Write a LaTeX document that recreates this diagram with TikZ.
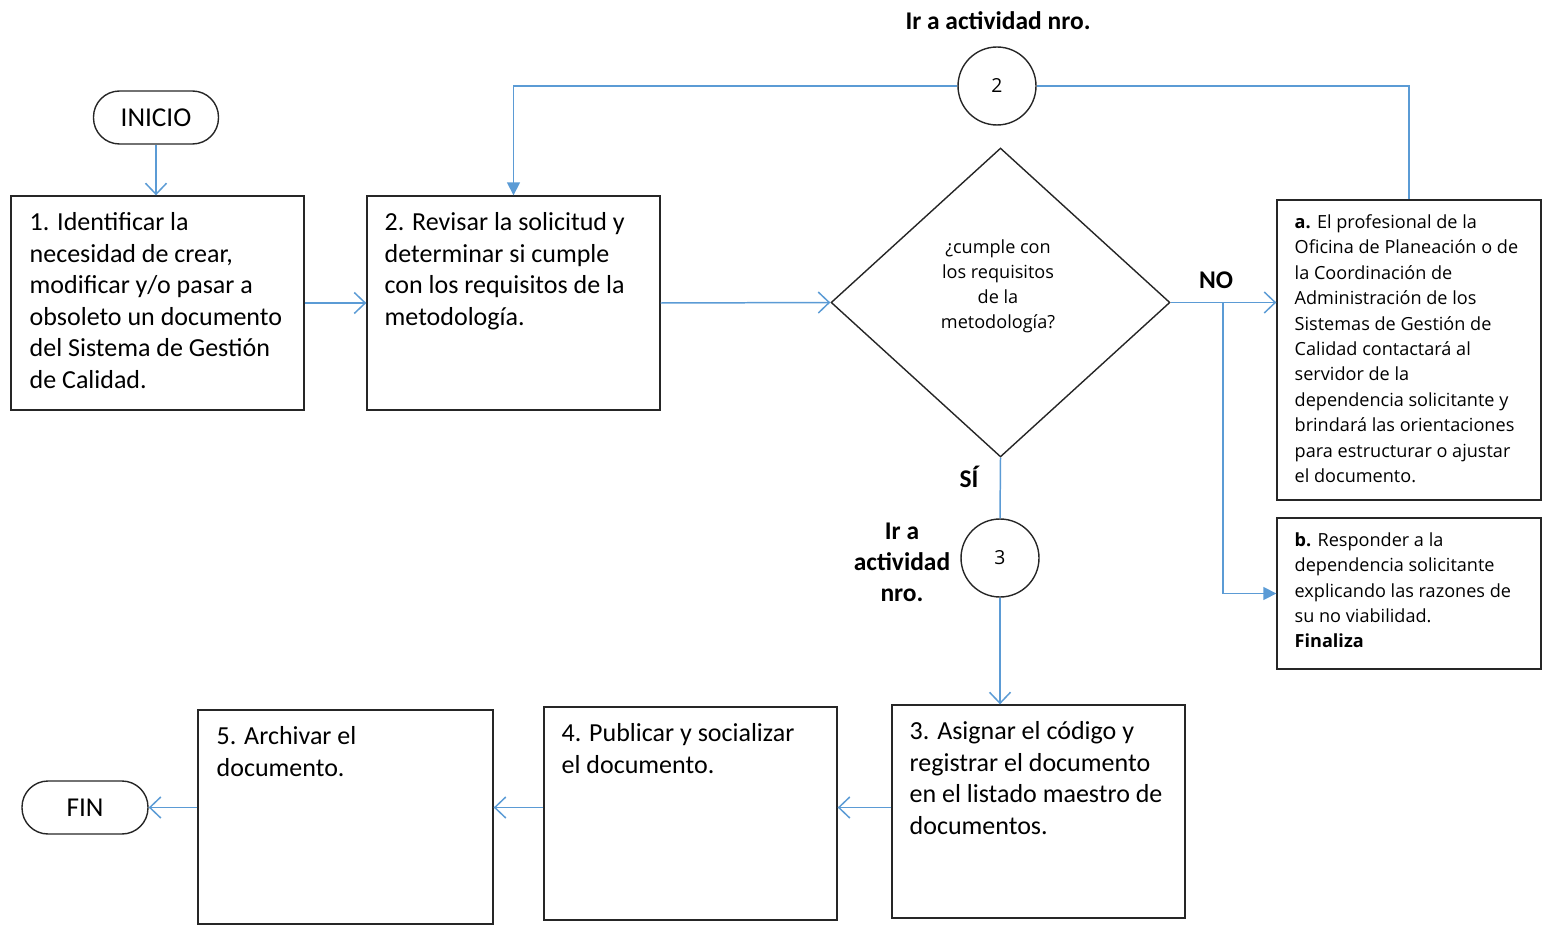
\documentclass[tikz,border=0pt]{standalone}
\usepackage{fontspec}
\setmainfont{Carlito}
\newfontfamily\seg{Open Sans}
\usetikzlibrary{arrows.meta,shapes.geometric}
\definecolor{conn}{HTML}{5B9BD5}
\begin{document}
\begin{tikzpicture}[x=0.02cm,y=-0.02cm,
  box/.style={draw=black!85, line width=0.8pt, rectangle, inner sep=0pt},
  term/.style={draw=black!85, line width=0.8pt, rounded corners=0.52cm, inner sep=0pt, font=\fontsize{15.5}{18}\selectfont},
  txt/.style={anchor=north west, inner sep=0pt, align=left, font=\fontsize{14.8}{17.95}\selectfont},
  stxt/.style={anchor=north west, inner sep=0pt, align=left, font=\seg\fontsize{10.3}{14.45}\selectfont},
  arr/.style={draw=conn, line width=0.85pt, -{Straight Barb[length=0.22cm,width=0.42cm]}},
  arrf/.style={draw=conn, line width=0.85pt, -{Triangle[length=0.26cm,width=0.26cm]}},
  conline/.style={draw=conn, line width=0.85pt},
  circ/.style={draw=black!85, line width=0.8pt, circle, minimum size=1.56cm, inner sep=0pt, font=\seg\fontsize{11}{13}\selectfont},
  lbl/.style={font=\bfseries\fontsize{14.5}{17.6}\selectfont, inner sep=0pt, align=center}
]
\useasboundingbox (0,0) rectangle (1544,929);

% terminals
\node[term, minimum width=2.5cm, minimum height=1.06cm] (ini) at (156,117.5) {INICIO};
\node[term, minimum width=2.52cm, minimum height=1.06cm] (fin) at (85,807.5) {FIN};

% boxes
\node[box, minimum width=5.86cm, minimum height=4.28cm] (b1) at (157.5,303) {};
\node[box, minimum width=5.86cm, minimum height=4.28cm] (b2) at (513.5,303) {};
\node[box, minimum width=5.86cm, minimum height=4.26cm] (b3) at (1038.5,811.5) {};
\node[box, minimum width=5.86cm, minimum height=4.26cm] (b4) at (690.5,813.5) {};
\node[box, minimum width=5.9cm, minimum height=4.28cm] (b5) at (345.5,817) {};
\node[box, minimum width=5.28cm, minimum height=6.0cm] (ba) at (1409,350) {};
\node[box, minimum width=5.28cm, minimum height=3.02cm] (bb) at (1409,593.5) {};

% decision and connectors
\node[draw=black!85, line width=0.8pt, diamond, minimum width=6.78cm, minimum height=6.18cm, inner sep=0pt] (dia) at (1000.5,302.5) {};
\node[circ] (c2) at (997,86) {2};
\node[circ] (c3) at (1000,558) {3};

% texts
\node[txt] (t1) at ([shift={(19,17)}]b1.north west) {1. Identificar la\\necesidad de crear,\\modificar y/o pasar a\\obsoleto un documento\\del Sistema de Gestión\\de Calidad.};
\node[txt] (t2) at ([shift={(18,17)}]b2.north west) {2. Revisar la solicitud y\\determinar si cumple\\con los requisitos de la\\metodología.};
\node[txt] (t3) at ([shift={(18,17)}]b3.north west) {3. Asignar el código y\\registrar el documento\\en el listado maestro de\\documentos.};
\node[txt] (t4) at ([shift={(18,17)}]b4.north west) {4. Publicar y socializar\\el documento.};
\node[txt] (t5) at ([shift={(19,17)}]b5.north west) {5. Archivar el\\documento.};
\node[stxt] (ta) at ([shift={(18,15)}]ba.north west) {\textbf{a.} El profesional de la\\Oficina de Planeación o de\\la Coordinación de\\Administración de los\\Sistemas de Gestión de\\Calidad contactará al\\servidor de la\\dependencia solicitante y\\brindará las orientaciones\\para estructurar o ajustar\\el documento.};
\node[stxt] (tb) at ([shift={(18,15)}]bb.north west) {\textbf{b.} Responder a la\\dependencia solicitante\\explicando las razones de\\su no viabilidad.\\\textbf{Finaliza}};
\node[font=\seg\fontsize{10.3}{14.2}\selectfont, align=center, inner sep=0pt] (dt) at (998,286) {¿cumple con\\los requisitos\\de la\\metodología?};

% labels
\node[lbl] (l2) at (998,21) {Ir a actividad nro.};
\node[lbl] (l3) at (902,562) {Ir a\\actividad\\nro.};
\node[lbl] (no) at (1216,280) {NO};
\node[lbl] (si) at (969,477) {SÍ};

% connectors
\draw[arr] (ini.south) -- (ini.south |- b1.north);
\draw[arr] (b1.east) -- (b2.west);
\draw[arr] (b2.east) -- (dia.west);
\draw[conline] (dia.south) -- (c3.north);
\draw[arr] (c3.south) -- (c3.south |- b3.north);
\draw[arr] (b3.west |- fin) -- (b4.east |- fin);
\draw[arr] (b4.west |- fin) -- (b5.east |- fin);
\draw[arr] (b5.west |- fin) -- (fin.east);
\draw[arr] (dia.east) -- (dia.east -| ba.west);
\coordinate (nb) at (1223,302.5);
\draw[arrf] (nb) |- (bb.west);
\draw[conline] (ba.north) |- (c2.east);
\draw[arrf] (c2.west) -| (b2.north);
\end{tikzpicture}
\end{document}
